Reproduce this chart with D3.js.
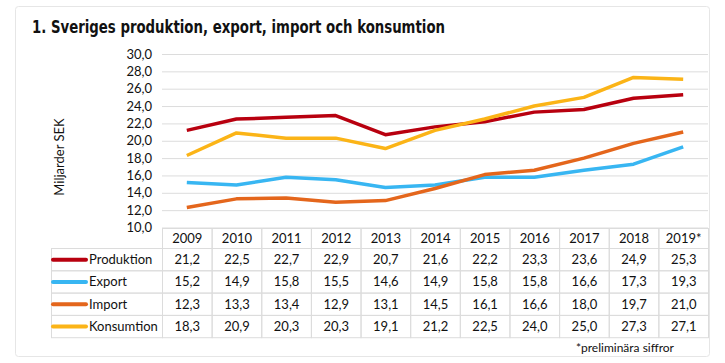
<!DOCTYPE html>
<html>
<head>
<meta charset="utf-8">
<script src="https://cdn.jsdelivr.net/npm/d3@7"></script>
<style>
  body { margin: 0; background: #fff; }
  svg { display: block; font-family: Lato, "Open Sans", sans-serif; }
</style>
</head>
<body>
<svg id="chart" width="725" height="363"></svg>
<script>
// data from the table
const years = ['2009', '2010', '2011', '2012', '2013', '2014', '2015', '2016', '2017', '2018', '2019*'];
const seriesNames = ['Produktion', 'Export', 'Import', 'Konsumtion'];
const produktion = [21.2, 22.5, 22.7, 22.9, 20.7, 21.6, 22.2, 23.3, 23.6, 24.9, 25.3];
const exportVals = [15.2, 14.9, 15.8, 15.5, 14.6, 14.9, 15.8, 15.8, 16.6, 17.3, 19.3];
const importVals = [12.3, 13.3, 13.4, 12.9, 13.1, 14.5, 16.1, 16.6, 18.0, 19.7, 21.0];
const konsumtion = [18.3, 20.9, 20.3, 20.3, 19.1, 21.2, 22.5, 24.0, 25.0, 27.3, 27.1];
const yTicks = [10, 12, 14, 16, 18, 20, 22, 24, 26, 28, 30];

const colors = ['#b8000f', '#38b6f2', '#e4661c', '#fbb417'];
const values = [produktion, exportVals, importVals, konsumtion];
const series = seriesNames.map((name, i) => ({ name, color: colors[i], values: values[i] }));

const svg = d3.select('#chart');
const fmt = v => v.toFixed(1).replace('.', ',');
const textCol = '#111';

// ram runt hela diagrammet
svg.append('rect')
  .attr('x', 15.5).attr('y', 6.5)
  .attr('width', 694).attr('height', 350)
  .attr('rx', 3)
  .attr('fill', '#fff')
  .attr('stroke', '#e6e6e6');

svg.append('text')
  .attr('x', 32).attr('y', 33)
  .attr('font-family', '"DejaVu Sans Condensed", "DejaVu Sans", sans-serif')
  .attr('font-weight', 'bold')
  .attr('font-size', 18)
  .attr('fill', '#111')
  .attr('textLength', 413)
  .attr('lengthAdjust', 'spacingAndGlyphs')
  .text('1. Sveriges produktion, export, import och konsumtion');

const x = d3.scaleBand().domain(years).range([162, 708]);
const y = d3.scaleLinear().domain([10, 30]).range([227.5, 54]);

// gridlinjer via axel
const yAxis = d3.axisLeft(y)
  .tickValues(yTicks)
  .tickSize(-(708 - 162))
  .tickPadding(10)
  .tickFormat(fmt);

svg.append('g')
  .attr('transform', 'translate(162,0)')
  .call(yAxis)
  .call(g => {
    g.select('.domain').remove();
    g.selectAll('.tick line').attr('stroke', '#dcdcdc');
    g.selectAll('.tick text')
      .attr('font-family', 'Lato, "Open Sans", sans-serif')
      .attr('font-size', 13)
      .attr('fill', textCol);
  });

svg.append('text')
  .attr('transform', 'translate(64,157) rotate(-90)')
  .attr('text-anchor', 'middle')
  .attr('font-size', 13)
  .attr('fill', textCol)
  .text('Miljarder SEK');

const line = d3.line()
  .x((d, i) => x(years[i]) + x.bandwidth() / 2)
  .y(d => y(d));

svg.append('g').selectAll('path')
  .data(series)
  .join('path')
  .attr('d', d => line(d.values))
  .attr('fill', 'none')
  .attr('stroke', d => d.color)
  .attr('stroke-width', 3.5)
  .attr('stroke-linejoin', 'round');

// tabell
const headerTop = 228, headerBottom = 248, rowH = 22.3;
const tableLeft = 51;
const table = svg.append('g');
const gridCol = '#dcdcdc';

// rubrikrad (årtal)
table.append('g').selectAll('rect')
  .data(years)
  .join('rect')
  .attr('x', d => x(d) + 0.5)
  .attr('y', headerTop + 0.5)
  .attr('width', x.bandwidth())
  .attr('height', headerBottom - headerTop)
  .attr('fill', 'none')
  .attr('stroke', gridCol);

table.append('g').selectAll('text')
  .data(years)
  .join('text')
  .attr('x', d => x(d) + x.bandwidth() / 2 + 0.5)
  .attr('y', (headerTop + headerBottom) / 2 + 4.5)
  .attr('text-anchor', 'middle')
  .attr('font-size', 13)
  .attr('fill', textCol)
  .text(d => d);

const rows = table.append('g').selectAll('g')
  .data(series)
  .join('g')
  .attr('transform', (d, i) => `translate(0,${headerBottom + i * rowH})`);

rows.append('rect')
  .attr('x', tableLeft + 0.5).attr('y', 0.5)
  .attr('width', 162 - tableLeft).attr('height', rowH)
  .attr('fill', 'none').attr('stroke', gridCol);

rows.append('line')
  .attr('x1', 53).attr('x2', 86)
  .attr('y1', rowH / 2 + 0.5).attr('y2', rowH / 2 + 0.5)
  .attr('stroke', d => d.color)
  .attr('stroke-width', 4)
  .attr('stroke-linecap', 'round');

rows.append('text')
  .attr('x', 89)
  .attr('y', rowH / 2 + 5)
  .attr('font-size', 13)
  .attr('fill', textCol)
  .text(d => d.name);

rows.selectAll('rect.cell')
  .data(d => d.values)
  .join('rect')
  .attr('class', 'cell')
  .attr('x', (v, i) => x(years[i]) + 0.5)
  .attr('y', 0.5)
  .attr('width', x.bandwidth())
  .attr('height', rowH)
  .attr('fill', 'none')
  .attr('stroke', gridCol);

rows.selectAll('text.val')
  .data(d => d.values)
  .join('text')
  .attr('class', 'val')
  .attr('x', (v, i) => x(years[i]) + x.bandwidth() / 2 + 0.5)
  .attr('y', rowH / 2 + 5)
  .attr('text-anchor', 'middle')
  .attr('font-size', 13)
  .attr('fill', textCol)
  .text(fmt);

svg.append('text')
  .attr('x', 674)
  .attr('y', 352)
  .attr('text-anchor', 'end')
  .attr('font-size', 12)
  .attr('fill', textCol)
  .text('*preliminära siffror');
</script>
</body>
</html>
